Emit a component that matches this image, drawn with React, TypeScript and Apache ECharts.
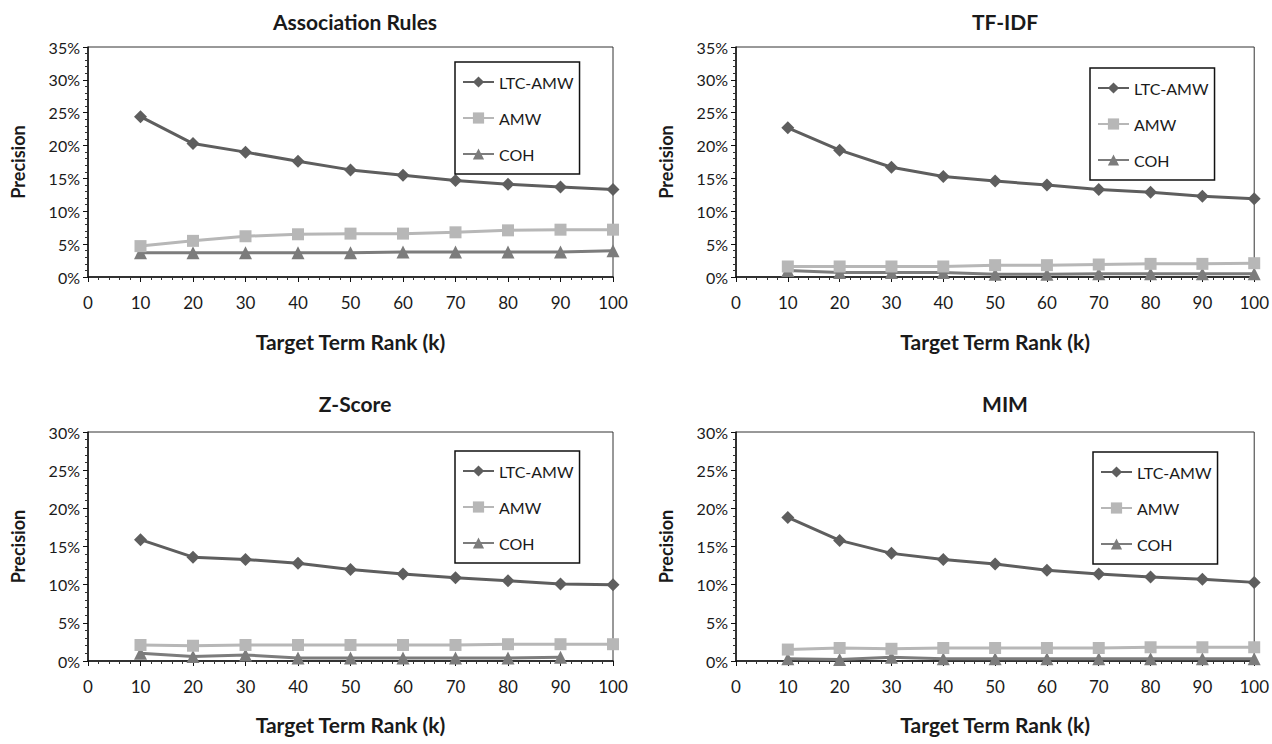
import React, { useEffect, useRef } from "react";
import * as echarts from "echarts";

const ranks = [10, 20, 30, 40, 50, 60, 70, 80, 90, 100];
const seriesNames = ["LTC-AMW", "AMW", "COH"];
const titles = ["Association Rules", "TF-IDF", "Z-Score", "MIM"];
const yMaxes = [35, 35, 30, 30];

// Association Rules
const arLtc = [24.4, 20.3, 19.0, 17.6, 16.3, 15.5, 14.7, 14.1, 13.7, 13.3];
const arAmw = [4.7, 5.5, 6.2, 6.5, 6.6, 6.6, 6.8, 7.1, 7.2, 7.2];
const arCoh = [3.7, 3.7, 3.7, 3.7, 3.7, 3.8, 3.8, 3.8, 3.8, 4.0];
// TF-IDF
const tfLtc = [22.7, 19.3, 16.7, 15.3, 14.6, 14.0, 13.3, 12.9, 12.3, 11.9];
const tfAmw = [1.6, 1.6, 1.6, 1.6, 1.8, 1.8, 1.9, 2.0, 2.0, 2.1];
const tfCoh = [1.0, 0.7, 0.7, 0.7, 0.4, 0.4, 0.5, 0.5, 0.5, 0.5];
// Z-Score
const zsLtc = [15.9, 13.6, 13.3, 12.8, 12.0, 11.4, 10.9, 10.5, 10.1, 10.0];
const zsAmw = [2.1, 2.0, 2.1, 2.1, 2.1, 2.1, 2.1, 2.2, 2.2, 2.2];
const zsCoh = [1.0, 0.6, 0.8, 0.4, 0.4, 0.4, 0.4, 0.4, 0.5, null];
// MIM
const mimLtc = [18.8, 15.8, 14.1, 13.3, 12.7, 11.9, 11.4, 11.0, 10.7, 10.3];
const mimAmw = [1.5, 1.7, 1.6, 1.7, 1.7, 1.7, 1.7, 1.8, 1.8, 1.8];
const mimCoh = [0.3, 0.2, 0.5, 0.3, 0.3, 0.3, 0.3, 0.3, 0.3, 0.3];

const panels = [
  [arLtc, arAmw, arCoh],
  [tfLtc, tfAmw, tfCoh],
  [zsLtc, zsAmw, zsCoh],
  [mimLtc, mimAmw, mimCoh],
];

const FONT = "Lato, 'Open Sans', sans-serif";
const TXT = "#1a1a1a";

const layout = [
  { left: 88, top: 47, width: 525, height: 230, tx: 350, ty: 6, lg: { left: 455, top: 62 } },
  { left: 736, top: 47, width: 524, height: 230, tx: 1000, ty: 6, lg: { left: 1090, top: 68 } },
  { left: 88, top: 432, width: 525, height: 229, tx: 350, ty: 388, lg: { left: 455, top: 451 } },
  { left: 736, top: 432, width: 524, height: 229, tx: 1000, ty: 388, lg: { left: 1093, top: 452 } },
];

const styles = [
  { color: "#5e5e5e", symbol: "diamond", size: 13 },
  { color: "#b7b7b7", symbol: "rect", size: 12 },
  { color: "#7c7c7c", symbol: "triangle", size: 13 },
];

export default function App() {
  const ref = useRef<HTMLDivElement>(null);
  useEffect(() => {
    document.body.style.margin = "0";
    const chart = echarts.init(ref.current!, null, { renderer: "svg" });
    const grids: any[] = [];
    const xAxes: any[] = [];
    const yAxes: any[] = [];
    const titleList: any[] = [];
    const legends: any[] = [];
    const series: any[] = [];
    layout.forEach((l, i) => {
      grids.push({
        left: l.left,
        top: l.top,
        width: l.width,
        height: l.height,
        show: true,
        borderColor: "#333",
        borderWidth: 1,
        backgroundColor: "transparent",
      });
      titleList.push({
        text: titles[i],
        left: l.tx,
        top: l.ty,
        textAlign: "center",
        textStyle: { fontFamily: FONT, fontWeight: "bold", fontSize: 21, color: TXT },
      });
      legends.push({
        data: seriesNames,
        orient: "vertical",
        left: l.lg.left,
        top: l.lg.top,
        borderColor: "#111",
        borderWidth: 1.5,
        padding: [12, 6, 12, 7],
        itemGap: 20,
        itemWidth: 31,
        itemHeight: 14,
        textStyle: { fontFamily: FONT, fontSize: 16, color: TXT, lineHeight: 14 },
      });
      xAxes.push({
        type: "value",
        gridIndex: i,
        min: 0,
        max: 100,
        interval: 10,
        name: "Target Term Rank (k)",
        nameLocation: "middle",
        nameGap: i < 2 ? 54 : 53,
        nameTextStyle: { fontFamily: FONT, fontWeight: "bold", fontSize: 21, color: TXT },
        axisLine: { lineStyle: { color: "#111", width: 1.5 } },
        axisTick: { show: true, length: 5, inside: false, lineStyle: { color: "#111" } },
        minorTick: { show: true, splitNumber: 5, length: 3, lineStyle: { color: "#333" } },
        splitLine: { show: false },
        axisLabel: { fontFamily: FONT, fontSize: 17, color: TXT, margin: 17 },
      });
      yAxes.push({
        type: "value",
        gridIndex: i,
        min: 0,
        max: yMaxes[i],
        interval: 5,
        name: "Precision",
        nameLocation: "middle",
        nameGap: 61,
        nameTextStyle: { fontFamily: FONT, fontWeight: "bold", fontSize: 18, color: TXT },
        axisLine: { show: true, lineStyle: { color: "#111", width: 1.5 } },
        axisTick: { show: true, length: 5, lineStyle: { color: "#111" } },
        minorTick: { show: true, splitNumber: 5, length: 3, lineStyle: { color: "#333" } },
        splitLine: { show: false },
        axisLabel: {
          fontFamily: FONT,
          fontSize: 16,
          color: TXT,
          margin: 8,
          formatter: "{value}%",
        },
      });
      panels[i].forEach((vals, s) => {
        const st = styles[s];
        series.push({
          type: "line",
          name: seriesNames[s],
          xAxisIndex: i,
          yAxisIndex: i,
          data: ranks
            .map((r, k) => [r, vals[k]])
            .filter((p) => p[1] !== null && p[1] !== undefined),
          symbol: st.symbol,
          symbolSize: st.size,
          showAllSymbol: true,
          itemStyle: { color: st.color },
          lineStyle: { color: st.color, width: 3 },
          z: 3 - s,
        });
      });
    });
    chart.setOption({
      animation: false,
      backgroundColor: "#fff",
      title: titleList,
      legend: legends,
      grid: grids,
      xAxis: xAxes,
      yAxis: yAxes,
      series,
    });
    return () => chart.dispose();
  }, []);
  return <div ref={ref} style={{ width: 1272, height: 744 }} />;
}
